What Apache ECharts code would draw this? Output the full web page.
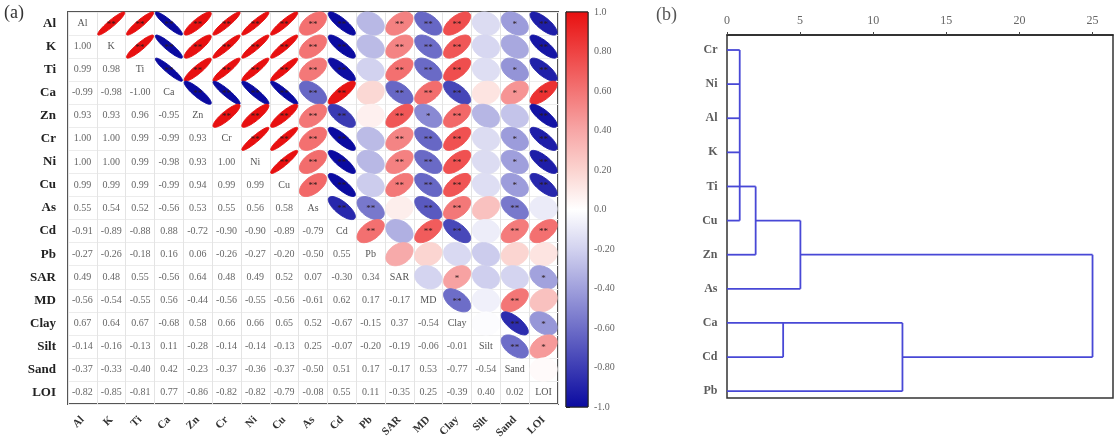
<!DOCTYPE html>
<html><head><meta charset="utf-8">
<script src="https://cdn.jsdelivr.net/npm/echarts@6/dist/echarts.min.js"></script>
<style>html,body{margin:0;padding:0;background:#fff}#c{width:1116px;height:441px}</style>
</head><body><div id="c"></div>
<script>
// ---------- data ----------
const variables = ['Al','K','Ti','Ca','Zn','Cr','Ni','Cu','As','Cd','Pb','SAR','MD','Clay','Silt','Sand','LOI'];
// lower triangle of correlation matrix (row i, columns 0..i-1)
const lowerRows = [
  [],
  [1.00],
  [0.99, 0.98],
  [-0.99, -0.98, -1.00],
  [0.93, 0.93, 0.96, -0.95],
  [1.00, 1.00, 0.99, -0.99, 0.93],
  [1.00, 1.00, 0.99, -0.98, 0.93, 1.00],
  [0.99, 0.99, 0.99, -0.99, 0.94, 0.99, 0.99],
  [0.55, 0.54, 0.52, -0.56, 0.53, 0.55, 0.56, 0.58],
  [-0.91, -0.89, -0.88, 0.88, -0.72, -0.90, -0.90, -0.89, -0.79],
  [-0.27, -0.26, -0.18, 0.16, 0.06, -0.26, -0.27, -0.20, -0.50, 0.55],
  [0.49, 0.48, 0.55, -0.56, 0.64, 0.48, 0.49, 0.52, 0.07, -0.30, 0.34],
  [-0.56, -0.54, -0.55, 0.56, -0.44, -0.56, -0.55, -0.56, -0.61, 0.62, 0.17, -0.17],
  [0.67, 0.64, 0.67, -0.68, 0.58, 0.66, 0.66, 0.65, 0.52, -0.67, -0.15, 0.37, -0.54],
  [-0.14, -0.16, -0.13, 0.11, -0.28, -0.14, -0.14, -0.13, 0.25, -0.07, -0.20, -0.19, -0.06, -0.01],
  [-0.37, -0.33, -0.40, 0.42, -0.23, -0.37, -0.36, -0.37, -0.50, 0.51, 0.17, -0.17, 0.53, -0.77, -0.54],
  [-0.82, -0.85, -0.81, 0.77, -0.86, -0.82, -0.82, -0.79, -0.08, 0.55, 0.11, -0.35, 0.25, -0.39, 0.40, 0.02]
];
const colorbarTicks = [-1.0, -0.8, -0.6, -0.4, -0.2, 0.0, 0.2, 0.4, 0.6, 0.8, 1.0];
const colorbarLabels = ['-1.0','-0.80','-0.60','-0.40','-0.20','0.0','0.20','0.40','0.60','0.80','1.0'];
const colorStops = [[-1,'#0a0aa0'],[-0.8,'#3c3cb4'],[-0.6,'#6e6ec8'],[-0.4,'#a0a0dc'],[-0.2,'#d2d2ef'],[0,'#ffffff'],[0.2,'#fbd3cf'],[0.4,'#f7a6a6'],[0.6,'#f37474'],[0.8,'#ee4242'],[1,'#e81010']];

const dendroLeaves = ['Cr','Ni','Al','K','Ti','Cu','Zn','As','Ca','Cd','Pb'];
const dendroAxisMax = 26.4;
// horizontal branches: [leaf row, x start, x end] (rescaled distance)
const dendroHorizontal = [
  ['Cr',0,0.87],['Ni',0,0.87],['Al',0,0.87],['K',0,0.87],['Ti',0,1.96],['Cu',0,0.87],
  ['Cu',1.96,5.02],['Zn',0,1.96],['As',0,5.02],['Zn',5.02,25],
  ['Ca',0,12],['Cd',0,3.84],['Pb',0,12],['Cd',12,25]
];
// vertical joins: [x, leaf from, leaf to]
const dendroVertical = [[0.87,'Cr','Cu'],[1.96,'Ti','Zn'],[5.02,'Cu','As'],[25,'Zn','Cd'],[3.84,'Ca','Cd'],[12,'Ca','Pb']];

// ---------- helpers ----------
function hexToRgb(h){return [parseInt(h.substr(1,2),16),parseInt(h.substr(3,2),16),parseInt(h.substr(5,2),16)];}
function colorOf(r){
  r = Math.max(-1, Math.min(1, r));
  for (let k=0;k<colorStops.length-1;k++){
    const a=colorStops[k], b=colorStops[k+1];
    if (r>=a[0] && r<=b[0]){
      const t=(r-a[0])/(b[0]-a[0]);
      const ca=hexToRgb(a[1]), cb=hexToRgb(b[1]);
      const c=ca.map((v,q)=>Math.round(v+(cb[q]-v)*t));
      return 'rgb('+c.join(',')+')';
    }
  }
  return '#fff';
}
function corr(i,j){ if(i===j) return 1; return i>j ? lowerRows[i][j] : lowerRows[j][i]; }
function stars(r){ const a=Math.abs(r); return a>=0.46?'**':(a>=0.35?'*':''); }

const n = variables.length;
const corrData = [];
for (let i=0;i<n;i++) for (let j=0;j<n;j++) corrData.push([j,i,corr(i,j)]);

const serif = '"Liberation Serif","DejaVu Serif",serif';

function renderCorr(params, api){
  const j=api.value(0), i=api.value(1), r=api.value(2);
  const c=api.coord([j,i]); const s=api.size([1,1]);
  if (i===j){
    return {type:'text', style:{text:variables[i], x:c[0], y:c[1], align:'center', verticalAlign:'middle', fontSize:10, fontFamily:serif, fill:'#555'}};
  }
  if (j<i){
    return {type:'text', style:{text:r.toFixed(2), x:c[0], y:c[1], align:'center', verticalAlign:'middle', fontSize:10, fontFamily:serif, fill:'#666'}};
  }
  // ellipse outline (shape eccentricity slightly softened for display)
  const d=Math.acos(Math.max(-1,Math.min(1,r*0.93)));
  const pts=[];
  const rx=s[0]*0.47, ry=s[1]*0.5;
  for (let k=0;k<64;k++){
    const t=2*Math.PI*k/64;
    pts.push([c[0]+Math.cos(t+d/2)*rx, c[1]-Math.cos(t-d/2)*ry]);
  }
  const col=colorOf(Math.max(-1,Math.min(1,r*1.12)));
  const children=[{type:'polygon', shape:{points:pts}, style:{fill:col, stroke:col, lineWidth:1}}];
  const st=stars(r);
  if (st) children.push({type:'text', style:{text:st, x:c[0], y:c[1]+1, align:'center', verticalAlign:'middle', fontSize:9, fontFamily:serif, fill:'#2a1a1a'}});
  return {type:'group', children};
}

// colorbar gradient
const gradStops = colorStops.map(s=>({offset:(1-s[0])/2, color:s[1]})).sort((a,b)=>a.offset-b.offset);

// dendrogram segments
const leafPos = name => dendroLeaves.indexOf(name)+1;
const dendroSegs = [];
dendroHorizontal.forEach(h=>dendroSegs.push([h[1],leafPos(h[0]),h[2],leafPos(h[0])]));
dendroVertical.forEach(v=>dendroSegs.push([v[0],leafPos(v[1]),v[0],leafPos(v[2])]));

const chart = echarts.init(document.getElementById('c'));
chart.setOption({
  animation:false,
  backgroundColor:'#fff',
  graphic:[
    {type:'text', left:4, top:4, style:{text:'(a)', fontSize:18, fontFamily:serif, fill:'#333'}},
    {type:'text', left:656, top:6, style:{text:'(b)', fontSize:18, fontFamily:serif, fill:'#555'}}
  ],
  grid:[
    {left:68, top:12, width:490, height:394, show:true, borderColor:'#555', borderWidth:2},
    {left:566, top:12, width:22, height:395, show:true, borderColor:'#222', borderWidth:1},
    {left:727, top:35, width:386, height:363, show:true, borderColor:'#333', borderWidth:1.5}
  ],
  xAxis:[
    {gridIndex:0, type:'category', data:variables, position:'bottom',
     axisLine:{show:false}, axisTick:{show:false},
     splitLine:{show:true, lineStyle:{color:'#e4e4e4', width:1}},
     axisLabel:{interval:0, rotate:45, margin:14, fontSize:11, fontWeight:'bold', fontFamily:serif, color:'#333'}},
    {gridIndex:1, type:'value', min:0, max:1, show:false},
    {gridIndex:2, type:'value', min:0, max:dendroAxisMax, interval:5, position:'top',
     axisLine:{show:true, lineStyle:{color:'#222', width:1.5}},
     axisTick:{show:true, length:3, lineStyle:{color:'#444'}},
     splitLine:{show:false},
     axisLabel:{margin:8, fontSize:12, fontFamily:serif, color:'#666', showMaxLabel:false}}
  ],
  yAxis:[
    {gridIndex:0, type:'category', data:variables, inverse:true,
     axisLine:{show:false}, axisTick:{show:false},
     splitLine:{show:true, lineStyle:{color:'#ececec', width:1}},
     axisLabel:{interval:0, margin:12, fontSize:13, fontWeight:'bold', fontFamily:serif, color:'#222'}},
    {gridIndex:1, type:'value', min:-1, max:1, interval:0.2, position:'right',
     axisLine:{show:true, lineStyle:{color:'#222'}},
     axisTick:{show:true, length:4, lineStyle:{color:'#222'}},
     splitLine:{show:false},
     axisLabel:{margin:6, fontSize:10, fontFamily:serif, color:'#666',
       formatter:v=>{const idx=colorbarTicks.findIndex(t=>Math.abs(t-v)<1e-6); return idx>=0?colorbarLabels[idx]:'';}}},
    {gridIndex:2, type:'value', inverse:true, min:0.56, max:11.2,
     axisLine:{show:false}, axisTick:{show:false}, axisLabel:{show:false}, splitLine:{show:false}}
  ],
  series:[
    {type:'custom', xAxisIndex:0, yAxisIndex:0, data:corrData, encode:{x:0,y:1}, renderItem:renderCorr, silent:true},
    {type:'custom', xAxisIndex:1, yAxisIndex:1, data:[[0,-1,1,1]], encode:{x:[0,2], y:[1,3]}, silent:true,
     renderItem:(p,api)=>{
       const a=api.coord([0,1]), b=api.coord([1,-1]);
       return {type:'rect', shape:{x:a[0], y:a[1], width:b[0]-a[0], height:b[1]-a[1]},
         style:{fill:new echarts.graphic.LinearGradient(0,0,0,1,gradStops), stroke:'#222', lineWidth:1}};
     }},
    {type:'custom', xAxisIndex:2, yAxisIndex:2, data:dendroSegs, encode:{x:[0,2], y:[1,3]}, silent:true,
     renderItem:(p,api)=>{
       const a=api.coord([api.value(0),api.value(1)]), b=api.coord([api.value(2),api.value(3)]);
       return {type:'line', shape:{x1:a[0], y1:a[1], x2:b[0], y2:b[1]}, style:{stroke:'#4848d6', lineWidth:1.8}};
     }},
    {type:'scatter', xAxisIndex:2, yAxisIndex:2, symbolSize:1, itemStyle:{color:'rgba(0,0,0,0)'}, silent:true,
     data:dendroLeaves.map((nm,k)=>[0,k+1,nm]),
     label:{show:true, position:'left', distance:9, formatter:p=>p.value[2], fontSize:12, fontWeight:'bold', fontFamily:serif, color:'#333'}}
  ]
});
</script></body></html>
